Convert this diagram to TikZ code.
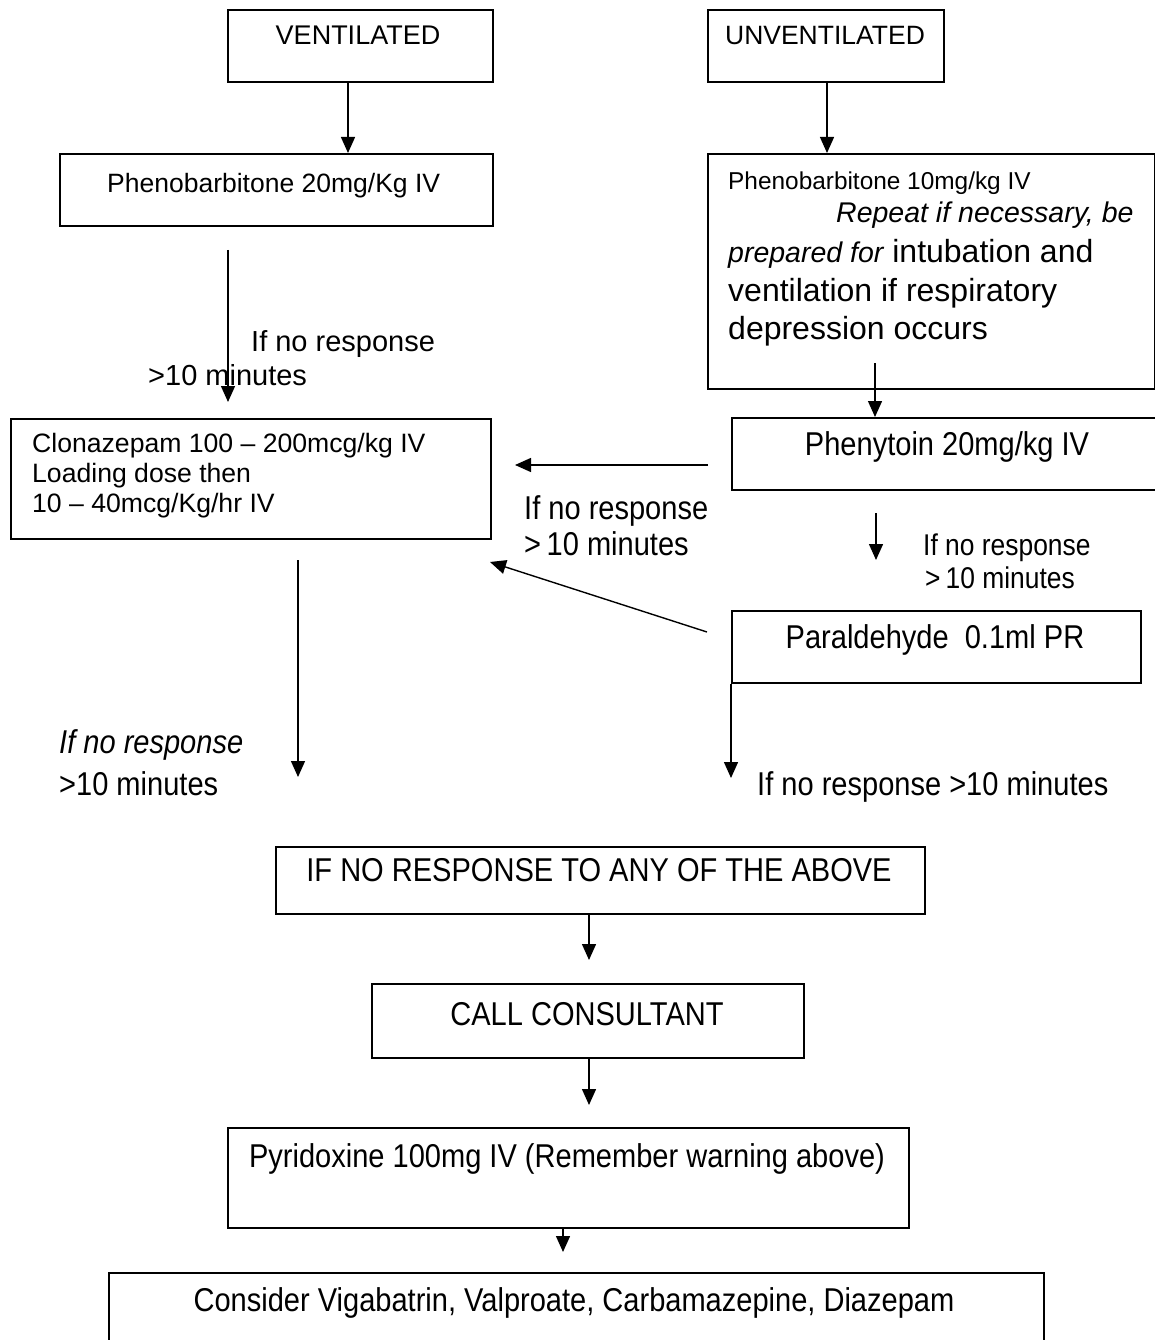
\documentclass[tikz,border=0pt]{standalone}
\usepackage{fontspec}
\setmainfont{Liberation Sans}
\newfontfamily\cond[FakeStretch=0.88]{Liberation Sans}
\usetikzlibrary{arrows.meta}
\newcommand{\fs}[1]{\fontsize{#1}{#1}\selectfont}
\tikzset{
  box/.style={draw, line width=1.6pt, inner sep=0pt, anchor=north west},
  txt/.style={inner sep=0pt, anchor=base west},
  ctxt/.style={inner sep=0pt, anchor=base},
  arr/.style={line width=1.4pt, -{Triangle[width=14pt,length=16pt]}},
}
\begin{document}
\begin{tikzpicture}[x=1pt,y=-1pt]
\useasboundingbox (0,0) rectangle (1155,1340);
% boxes
\node[box, minimum width=265pt, minimum height=72pt] (vent) at (227,9) {};
\node[box, minimum width=236pt, minimum height=72pt] (unvent) at (707,9) {};
\node[box, minimum width=433pt, minimum height=72pt] (phen20) at (59,153) {};
\node[box, minimum width=447pt, minimum height=235pt] (phen10) at (707,153) {};
\node[box, minimum width=480pt, minimum height=120pt] (clon) at (10,418) {};
\node[box, minimum width=440pt, minimum height=72pt] (pheny) at (731,417) {};
\node[box, minimum width=409pt, minimum height=72pt] (para) at (731,610) {};
\node[box, minimum width=649pt, minimum height=67pt] (ifno) at (275,846) {};
\node[box, minimum width=432pt, minimum height=74pt] (call) at (371,983) {};
\node[box, minimum width=681pt, minimum height=100pt] (pyr) at (227,1127) {};
\node[box, minimum width=935pt, minimum height=90pt] (cons) at (108,1272) {};
% box texts
\node[ctxt] (ventT) at (358,45) {\fs{27}VENTILATED};
\node[ctxt] (unventT) at (825,45) {\fs{26.5}UNVENTILATED};
\node[txt] (phen20T) at (107,193) {\fs{26.5}Phenobarbitone 20mg/Kg IV};
\node[txt] (phen10a) at (728,190) {\fs{24.4}Phenobarbitone 10mg/kg IV};
\node[txt] (phen10b) at (836,223) {\fs{28.5}\itshape Repeat if necessary, be};
\node[txt] (phen10c) at (728,262) {\fs{28.5}\itshape prepared for\fs{32}\upshape\ intubation and};
\node[txt] (phen10d) at (728,301) {\fs{32}ventilation if respiratory};
\node[txt] (phen10e) at (728,339) {\fs{32}depression occurs};
\node[txt] (clonT1) at (32,452) {\fs{26.6}Clonazepam 100 -- 200mcg/kg IV};
\node[txt] (clonT2) at (32,482) {\fs{26.6}Loading dose then};
\node[txt] (clonT3) at (32,512) {\fs{26.6}10 -- 40mcg/Kg/hr IV};
\node[ctxt] (phenyT) at (947,455) {\cond\fs{33}Phenytoin 20mg/kg IV};
\node[ctxt] (paraT) at (935,648) {\cond\fs{33}Paraldehyde\ \ 0.1ml PR};
\node[ctxt] (ifnoT) at (599,881) {\cond\fs{33}IF NO RESPONSE TO ANY OF THE ABOVE};
\node[ctxt] (callT) at (587,1025) {\cond\fs{33}CALL CONSULTANT};
\node[ctxt] (pyrT) at (567,1167) {\cond\fs{33}Pyridoxine 100mg IV (Remember warning above)};
\node[ctxt] (consT) at (574,1311) {\cond\fs{33}Consider Vigabatrin, Valproate, Carbamazepine, Diazepam};
% free labels
\node[txt] (l1a) at (251,351) {\fs{29}If no response};
\node[txt] (l1b) at (148,385) {\fs{29}>10 minutes};
\node[txt] (l2a) at (524,519) {\cond\fs{33}If no response};
\node[txt] (l2b) at (524,555) {\cond\fs{33}>\,10 minutes};
\node[txt] (l3a) at (923,555) {\cond\fs{30}If no response};
\node[txt] (l3b) at (925,588) {\cond\fs{30}>\,10 minutes};
\node[txt] (l4a) at (59,753) {\cond\fs{33}\itshape If no response};
\node[txt] (l4b) at (59,795) {\cond\fs{33}>10 minutes};
\node[txt] (l5) at (757,795) {\cond\fs{33}If no response >10 minutes};
% coordinates for connectors
\coordinate (xA) at (348,0);
\coordinate (xB) at (827,0);
\coordinate (c1s) at (228,250);
\coordinate (c1e) at (228,402);
\coordinate (c2s) at (875,363);
\coordinate (c3s) at (708,465);
\coordinate (c3e) at (515,465);
\coordinate (c4s) at (876,513);
\coordinate (c4e) at (876,560);
\coordinate (c5s) at (707,632);
\coordinate (c5e) at (490,562);
\coordinate (c6s) at (298,560);
\coordinate (c6e) at (298,777);
\coordinate (c7e) at (731,778);
\coordinate (xC) at (589,0);
\coordinate (xD) at (563,0);
% connectors
\draw[arr] (vent.south -| xA) -- (phen20.north -| xA);
\draw[arr] (unvent.south -| xB) -- (phen10.north -| xB);
\draw[arr] (c1s) -- (c1e);
\draw[arr] (c2s) -- (pheny.north -| c2s);
\draw[arr] (c3s) -- (c3e);
\draw[arr] (c4s) -- (c4e);
\draw[arr] (c5s) -- (c5e);
\draw[arr] (c6s) -- (c6e);
\draw[arr] (para.south west) -- (c7e);
\draw[arr] (ifno.south -| xC) -- ([yshift=23pt]call.north -| xC);
\draw[arr] (call.south -| xC) -- ([yshift=22pt]pyr.north -| xC);
\draw[arr] (pyr.south -| xD) -- ([yshift=20pt]cons.north -| xD);
\end{tikzpicture}
\end{document}
